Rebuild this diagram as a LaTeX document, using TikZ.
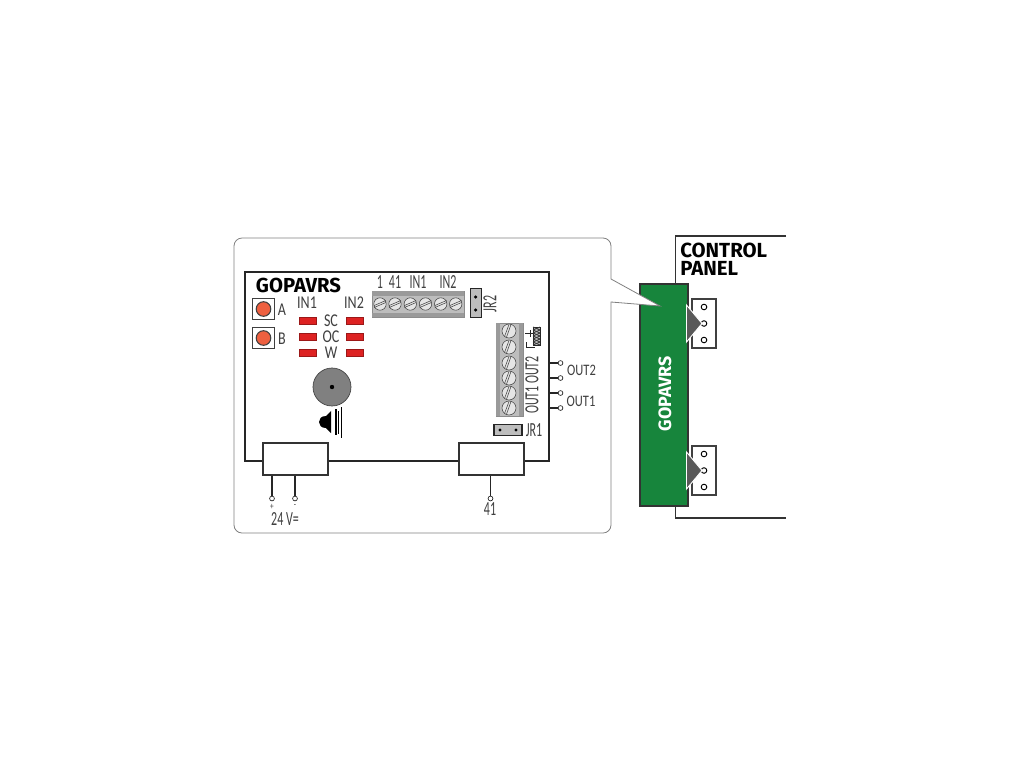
\documentclass[tikz,border=0pt]{standalone}
\usepackage{fontspec}
\setmainfont{Fira Sans}
\newfontfamily\thinfont[FakeStretch=0.78]{Carlito}
\newfontfamily\narrowfont[FakeStretch=0.6]{Carlito}
\definecolor{gopagreen}{HTML}{17853C}
\definecolor{ledred}{HTML}{DD2222}
\definecolor{btnred}{HTML}{EE6040}
\definecolor{termgrey}{HTML}{BDBDBD}
\definecolor{bandgrey}{HTML}{9A9A9A}

\begin{document}
\begin{tikzpicture}[x=0.75pt,y=-0.75pt,
    wire/.style={draw=black!85,line width=0.8pt},
    bluebox/.style={draw=black!80,fill=white,line width=0.85pt,minimum width=48.75pt,minimum height=24pt,inner sep=0pt},
    lab/.style={font=\thinfont\fontsize{13.5}{13.5}\selectfont,text=black!75,inner sep=0pt},
    narrowlab/.style={font=\narrowfont\fontsize{15}{15}\selectfont,text=black!75,inner sep=0pt},
    smalllab/.style={font=\thinfont\fontsize{12}{12}\selectfont,text=black!75,inner sep=0pt},
    signlab/.style={font=\thinfont\fontsize{7}{7}\selectfont,text=black!75,inner sep=0pt},
    led/.style={draw=ledred!70!black,line width=0.2pt,fill=ledred,minimum width=12.75pt,minimum height=5pt,inner sep=0pt},
    btn/.style={draw=black!75,line width=0.85pt,fill=white,minimum size=16pt,inner sep=0pt},
    pin/.style={circle,draw=black!85,fill=white,line width=0.5pt,minimum size=3.6pt,inner sep=0pt},
    hole/.style={circle,draw=black,fill=white,line width=0.7pt,minimum size=4.2pt,inner sep=0pt},
    jumpdot/.style={circle,fill=black,minimum size=2.6pt,inner sep=0pt},
    conn/.style={draw=black!75,fill=white,line width=0.85pt,minimum width=18pt,minimum height=36.75pt,inner sep=0pt},
    wedge/.style={draw=white,fill=black!65,line width=0.7pt,line join=miter},
    screw/.style={circle,draw=black!75,fill=termgrey!40,line width=0.4pt,inner sep=0pt}]
    \useasboundingbox (0,0) rectangle (1024,768);

    % control panel
    \draw [line width=0.85pt,black!80] (786,236) -- (675.7,236) -- (675.7,518) -- (786,518);
    \node [anchor=base west,font=\bfseries\fontsize{15.3}{15.3}\selectfont,inner sep=0pt] (cplabela) at (680,257.5) {CONTROL};
    \node [anchor=base west,font=\bfseries\fontsize{15.3}{15.3}\selectfont,inner sep=0pt] (cplabelb) at (680,275) {PANEL};
    \node [conn] (conna) at (704,323.5) {};
    \node [conn] (connb) at (704,470.5) {};
    \foreach \cy in {307,323.5,340,454,470.5,487}
        \node [hole] at (704,\cy) {};
    \node [draw=black!80,fill=gopagreen,line width=0.8pt,minimum width=36pt,minimum height=166.5pt,inner sep=0pt] (module) at (664,395) {};
    \node [rotate=90,text=white,font=\bfseries\fontsize{13.4}{13.4}\selectfont,inner sep=0pt] (modulelabel) at (665,394) {GOPAVRS};
    \draw [wedge] (686.5,305) -- (702,323.5) -- (686.5,342) -- cycle;
    \draw [wedge] (686.5,452) -- (702,470.5) -- (686.5,489) -- cycle;

    % callout
    \draw [draw=black!50,fill=white,line width=0.6pt,rounded corners=6pt] (234,238) -- (611,238) -- (611,255) [sharp corners] -- (611,279) -- (660,306)
        -- (611,302) -- (611,320) [rounded corners=6pt] -- (611,533) -- (234,533) -- cycle;

    % board
    \node [draw=black!85,line width=0.85pt,minimum width=228pt,minimum height=141.75pt,inner sep=0pt] (board) at (397,366.5) {};
    \node [anchor=base,font=\bfseries\fontsize{15.2}{15.2}\selectfont,inner sep=0pt] (title) at (298.5,292) {GOPAVRS};

    % buttons
    \node [btn] (btna) at (263.5,309) {};
    \node [btn] (btnb) at (263.5,338) {};
    \draw [draw=black!75,fill=btnred,line width=0.8pt] (btna) circle (7.3);
    \draw [draw=black!75,fill=btnred,line width=0.8pt] (btnb) circle (7.3);
    \node [lab] (laba) at (282,310) {A};
    \node [lab] (labb) at (282,339) {B};

    % leds
    \node [lab] (in1) at (307,303) {IN1};
    \node [lab] (in2) at (354,303) {IN2};
    \foreach \ly/\ltxt [count=\li] in {320.5/SC,336.5/OC,352.5/W} {
        \node [led] (ledl\li) at (307.5,\ly) {};
        \node [led] (ledr\li) at (354.5,\ly) {};
        \node [lab] (ledlab\li) at (331,\ly) {\ltxt};
    }

    % buzzer
    \draw [draw=black!75,fill=black!50,line width=0.5pt] (332,387) circle (19);
    \fill (332,387) circle (2.2);
    \fill (326,416) .. controls (321,416) and (319,419) .. (319,422) .. controls (319,425) and (321,428) .. (326,428)
        -- (331,433) -- (331,411) -- cycle;
    \fill (335,409) rectangle (337,435);
    \fill (338,410.5) rectangle (339.2,434);
    \fill (340.8,407) rectangle (342.4,438);

    % top terminal
    \node [draw=black!45,fill=termgrey,line width=0.5pt,minimum width=69pt,minimum height=19.5pt,inner sep=0pt] (termtop) at (418,304) {};
    \fill [bandgrey] (372,291.3) rectangle (464,295.5);
    \fill [bandgrey] (372,312.5) rectangle (464,316.7);
    \foreach \sx in {380,395,410.3,425.5,440.7,455.7} {
        \draw [screw] (\sx,304) circle (6.2);
        \draw [black!75,line width=0.4pt] (\sx-5.8,305.5) -- (\sx+5.8,300.5);
        \draw [black!75,line width=0.4pt] (\sx-5.8,307.5) -- (\sx+5.8,302.5);
    }
    \foreach \tx/\ttxt [count=\ti] in {380/1,395/41,418/IN1,448/IN2}
        \node [narrowlab] (toplab\ti) at (\tx,282.5) {\ttxt};

    % JR2
    \node [draw=black!85,fill=termgrey,line width=1.2pt,minimum width=8pt,minimum height=21.5pt,inner sep=0pt] (jrtwo) at (476,303) {};
    \node [jumpdot] (jrtwoa) at (475.7,297) {};
    \node [jumpdot] (jrtwob) at (475.7,310) {};
    \node [narrowlab,rotate=90] (jrtwolab) at (490,304) {JR2};

    % right terminal
    \node [draw=black!45,fill=termgrey,line width=0.5pt,minimum width=20pt,minimum height=69.5pt,inner sep=0pt] (termright) at (509.5,369.5) {};
    \fill [bandgrey] (496.3,323) rectangle (500,416);
    \fill [bandgrey] (519,323) rectangle (522.7,416);
    \foreach \sy in {331,347,363,378,393,408} {
        \draw [screw] (509,\sy) circle (7);
        \draw [black!75,line width=0.4pt] (506.5,\sy+6.2) -- (511,\sy-6.5);
        \draw [black!75,line width=0.4pt] (504.5,\sy+5.5) -- (509,\sy-6.5);
    }
    \node [narrowlab,rotate=90] (outtwolab) at (532,370) {OUT2};
    \node [narrowlab,rotate=90] (outonelab) at (532,400) {OUT1};

    % resistor
    \draw [black!85,fill=black!25,line width=0.4pt] (533,327) rectangle (540,345);
    \foreach \hy in {327,330,...,342} {
        \draw [black!80,line width=0.6pt] (533,\hy) -- (540,\hy+3);
        \draw [black!80,line width=0.6pt] (533,\hy+3) -- (540,\hy);
    }
    \draw [black!85,line width=0.7pt] (525,333.5) -- (533,333.5);
    \draw [black!85,line width=0.7pt] (530.5,330) -- (530.5,337);
    \draw [black!85,line width=0.7pt] (526,342) -- (526,347) -- (535,347);

    % JR1
    \node [draw=black!85,fill=termgrey,line width=1.2pt,minimum width=21pt,minimum height=8pt,inner sep=0pt] (jrone) at (508,430) {};
    \node [jumpdot] (jronea) at (500,430) {};
    \node [jumpdot] (jroneb) at (516,430) {};
    \node [narrowlab] (jronelab) at (534,430) {JR1};

    % outputs
    \foreach \oy [count=\oi] in {363,378,393,408} {
        \node [pin] (outp\oi) at (560.5,\oy) {};
        \draw [wire] (board.east |- outp\oi) -- (outp\oi);
    }
    \node [smalllab] (outtwo) at (581.5,370) {OUT2};
    \node [smalllab] (outone) at (581,401) {OUT1};

    % bottom blocks
    \node [bluebox] (psbox) at (295.5,459) {};
    \node [bluebox] (busbox) at (491.5,459) {};
    \node [pin] (plus) at (272,498.5) {};
    \node [pin] (minus) at (295,498.5) {};
    \node [pin] (busp) at (490.5,498.5) {};
    \draw [wire] (psbox.south -| plus) -- (plus);
    \draw [wire] (psbox.south -| minus) -- (minus);
    \draw [wire] (busbox.south -| busp) -- (busp);
    \node [signlab] (pluslab) at (272,506.5) {+};
    \node [signlab] (minuslab) at (295,506) {-};
    \node [narrowlab] (vlab) at (285,519.5) {24 V=};
    \node [narrowlab] (buslab) at (490,509.5) {41};
\end{tikzpicture}
\end{document}
